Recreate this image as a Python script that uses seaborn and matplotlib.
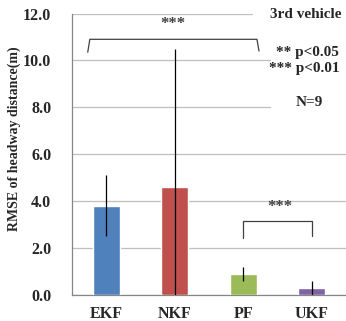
import numpy as np
import pandas as pd
import matplotlib
matplotlib.use("Agg")
import matplotlib.pyplot as plt
from matplotlib.patches import Rectangle
import seaborn as sns

# data
filters = ["EKF", "NKF", "PF", "UKF"]
rmse = [3.8, 4.6, 0.9, 0.3]
err_low = [2.5, 0.0, 0.6, 0.0]
err_high = [5.1, 10.5, 1.2, 0.6]
colors = ["#4F81BD", "#C0504D", "#9BBB59", "#8064A2"]
y_ticks = [0, 2, 4, 6, 8, 10, 12]

sns.set_style("white")
plt.rcParams["font.family"] = ["Liberation Serif", "DejaVu Serif"]
plt.rcParams["font.weight"] = "bold"

df = pd.DataFrame({"Filter": filters, "RMSE": rmse})

fig = plt.figure(figsize=(3.46, 3.21), dpi=100)
ax = fig.add_axes([72 / 346, 26 / 321, 274 / 346, 281.5 / 321])

sns.barplot(data=df, x="Filter", y="RMSE", hue="Filter", palette=colors,
            width=0.4, saturation=1, legend=False, ax=ax, zorder=3)

lo = np.array(rmse) - np.array(err_low)
hi = np.array(err_high) - np.array(rmse)
ax.errorbar(range(len(filters)), rmse, yerr=[lo, hi], fmt="none",
            ecolor="black", elinewidth=0.9, capsize=0, zorder=4)

ax.set_xlim(-0.5, 3.414)
ax.set_ylim(0, 12)
ax.set_yticks(y_ticks)
ax.set_yticklabels([f"{t:.1f}" for t in y_ticks], fontsize=11.5, fontweight="bold")
ax.set_xticks(range(len(filters)))
ax.set_xticklabels(filters, fontsize=11.5, fontweight="bold")
ax.set_xticks([-0.5, 0.5, 1.5, 2.5, 3.5], minor=True)
ax.tick_params(axis="x", which="major", length=0, pad=8)
ax.tick_params(axis="x", which="minor", length=5, color="#868686", width=0.8)
ax.tick_params(axis="y", length=3, color="#868686", width=0.8, pad=12)
ax.set_xlabel("")
ax.set_ylabel("RMSE of headway distance(m)", fontsize=10, fontweight="bold")
ax.yaxis.set_label_coords(-0.186, 0.555)

ax.grid(axis="y", color="#BFBFBF", linewidth=0.9, zorder=0)
ax.set_axisbelow(True)
for s in ["top", "right"]:
    ax.spines[s].set_visible(False)
for s in ["left", "bottom"]:
    ax.spines[s].set_color("#868686")
    ax.spines[s].set_linewidth(0.9)

# white boxes behind the legend-like text
ax.add_patch(Rectangle((2.14, 11.35), 1.4, 1.0, facecolor="white", edgecolor="none",
                       zorder=2, clip_on=False))
ax.add_patch(Rectangle((2.4, 7.8), 1.2, 3.3, facecolor="white", edgecolor="none",
                       zorder=2, clip_on=False))

ax.text(2.91, 11.95, "3rd vehicle", ha="center", va="center", fontsize=11, fontweight="bold", zorder=5)
ax.text(2.93, 10.35, "** p<0.05", ha="center", va="center", fontsize=11, fontweight="bold", zorder=5)
ax.text(2.89, 9.65, "*** p<0.01", ha="center", va="center", fontsize=11, fontweight="bold", zorder=5)
ax.text(2.97, 8.2, "N=9", ha="center", va="center", fontsize=11, fontweight="bold", zorder=5)

# significance brackets
ax.plot([-0.27, -0.24, 2.2, 2.23], [10.35, 10.9, 10.9, 10.4], color="#404040", linewidth=0.9, zorder=5)
ax.text(0.97, 11.55, "***", ha="center", va="center", fontsize=12, color="#404040", zorder=5)
ax.plot([1.99, 1.99, 3.0, 3.0], [2.44, 3.16, 3.16, 2.5], color="#404040", linewidth=0.9, zorder=5)
ax.text(2.53, 3.76, "***", ha="center", va="center", fontsize=12, color="#404040", zorder=5)

fig.savefig("out.png", dpi=100)
